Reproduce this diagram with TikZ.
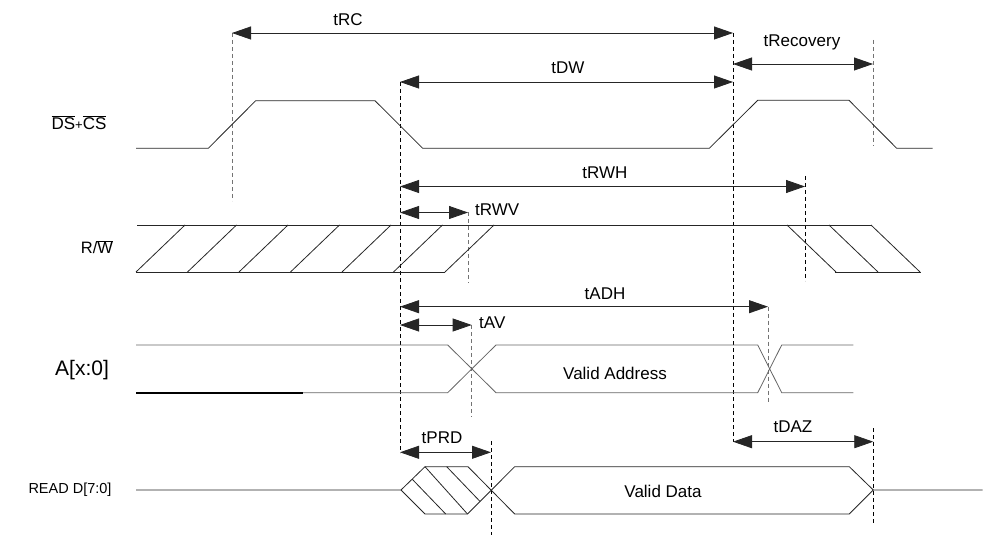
\documentclass[tikz,border=0pt]{standalone}
\usepackage{fontspec}
\setmainfont{Liberation Sans}
\usetikzlibrary{arrows.meta}

\tikzset{
  wave/.style={line width=0.8pt, black!85},
  addrwave/.style={line width=0.8pt, black!60},
  guide/.style={line width=0.8pt, dash pattern=on 4pt off 3pt, black},
  guidegray/.style={guide, black!55},
  dimline/.style={<->, line width=0.8pt, black!85},
}

\begin{document}
\begin{tikzpicture}[x=1pt,y=-1pt,>={Triangle[length=19pt,width=13pt]}, every node/.style={font=\fontsize{17}{17}\selectfont, inner sep=0pt}]
                \useasboundingbox (0,0) rectangle (983,540);

                % signal names
                \node (ds) at (79,123) {$\overline{\mbox{DS}}${\fontsize{13}{13}\selectfont+}$\overline{\mbox{CS}}$};
                \node[font=\fontsize{16.5}{16.5}\selectfont] (rw) at (97,247) {R/$\overline{\mbox{W}}$};
                \node[font=\fontsize{21}{21}\selectfont] (addr) at (82,370) {A[x:0]};
                \node[font=\fontsize{14.5}{14.5}\selectfont] (rd) at (70,490) {READ D[7:0]};

                % timing marks
                \coordinate (rcL) at (232,33);    \coordinate (rcLb) at (232,201);
                \coordinate (dwL) at (400,82);    \coordinate (dwLb) at (400,453);
                \coordinate (rcR) at (733,33);    \coordinate (rcRb) at (733,442);
                \coordinate (dwR) at (733,82);
                \coordinate (recL) at (733,64);
                \coordinate (recR) at (873,64);   \coordinate (recT) at (873,40);   \coordinate (recB) at (873,146);
                \coordinate (rwhL) at (400,186.5);
                \coordinate (rwhR) at (805,186.5); \coordinate (rwhT) at (805,176); \coordinate (rwhB) at (805,281);
                \coordinate (rwvL) at (400,212.5);
                \coordinate (rwvR) at (468,212.5); \coordinate (rwvB) at (468,283);
                \coordinate (adhL) at (400,306.7);
                \coordinate (adhR) at (768,306.7); \coordinate (adhB) at (768,403);
                \coordinate (avL) at (400,325);
                \coordinate (avR) at (471.7,325); \coordinate (avB) at (471.7,417);
                \coordinate (prdL) at (400,452.3);
                \coordinate (prdR) at (491,452.3); \coordinate (prdT) at (491,441); \coordinate (prdB) at (491,535);
                \coordinate (dazL) at (733,441.7);
                \coordinate (dazR) at (873.3,441.7); \coordinate (dazT) at (873.3,428); \coordinate (dazB) at (873.3,523);

                \draw[guidegray] (rcL)--(rcLb);
                \draw[guide] (dwL)--(dwLb);
                \draw[guide] (rcR)--(rcRb);
                \draw[guidegray] (recT)--(recB);
                \draw[guide] (rwhT)--(rwhB);
                \draw[guidegray] (rwvR)--(rwvB);
                \draw[guidegray] (adhR)--(adhB);
                \draw[guidegray] (avR)--(avB);
                \draw[guide] (prdT)--(prdB);
                \draw[guide] (dazT)--(dazB);

                \draw[dimline] (rcL)--(rcR);
                \draw[dimline] (dwL)--(dwR);
                \draw[dimline] (recL)--(recR);
                \draw[dimline] (rwhL)--(rwhR);
                \draw[dimline] (rwvL)--(rwvR);
                \draw[dimline] (adhL)--(adhR);
                \draw[dimline] (avL)--(avR);
                \draw[dimline] (prdL)--(prdR);
                \draw[dimline] (dazL)--(dazR);

                \node (trc) at (348,20) {tRC};
                \node (tdw) at (568,68) {tDW};
                \node (trec) at (802,42) {tRecovery};
                \node (trwh) at (605,173) {tRWH};
                \node[anchor=west] (trwv) at (475,210) {tRWV};
                \node (tadh) at (605,294) {tADH};
                \node[anchor=west] (tav) at (479,323) {tAV};
                \node (tprd) at (442,438) {tPRD};
                \node (tdaz) at (793,427) {tDAZ};

                % DS+CS
                \draw[wave] (136,148.3)--(208.3,148.3)--(255.7,100.7)--(375,100.7)--(422.7,148.3)
                    --(709.3,148.3)--(757.7,100.3)--(849,100.3)--(896.7,148.3)--(932.7,148.3);

                % R/W
                \draw[wave] (137,225)--(871,225);
                \draw[wave] (136,272)--(445,272);
                \foreach \b in {136,187.5,239,290.5,342,393.5,445}
                    \draw[wave] (\b,272)--(\b+49,225);
                \draw[wave] (835,272)--(921,272);
                \foreach \t in {787,829,871}
                    \draw[wave] (\t,225)--(\t+49,272);

                % A[x:0]
                \draw[addrwave] (136,345)--(447.7,345)--(496,392.7)--(757.7,392.7)--(781.7,345)--(853.3,345);
                \draw[addrwave] (136,392.7)--(447.7,392.7)--(496,345)--(757.7,345)--(781.7,392.7)--(853.3,392.7);
                \draw[line width=2.2pt, black] (136,392.7)--(303.3,392.7);
                \node (vaddr) at (615,373) {Valid Address};

                % READ D[7:0]
                \draw[wave] (136,490)--(401,490)--(425,466.7)--(468,466.7)--(514.7,514)--(849.3,514)--(873.3,490)--(982.7,490);
                \draw[wave] (401,490)--(425,514)--(467.5,514)--(514.7,466.7)--(849.3,466.7)--(873.3,490);
                \draw[wave] (412.3,479.3)--(445.7,514);
                \draw[wave] (425,466.7)--(467.5,514);
                \draw[wave] (446.7,466.7)--(480,501.4);
                \node (vdata) at (663,491) {Valid Data};
            \end{tikzpicture}
\end{document}
